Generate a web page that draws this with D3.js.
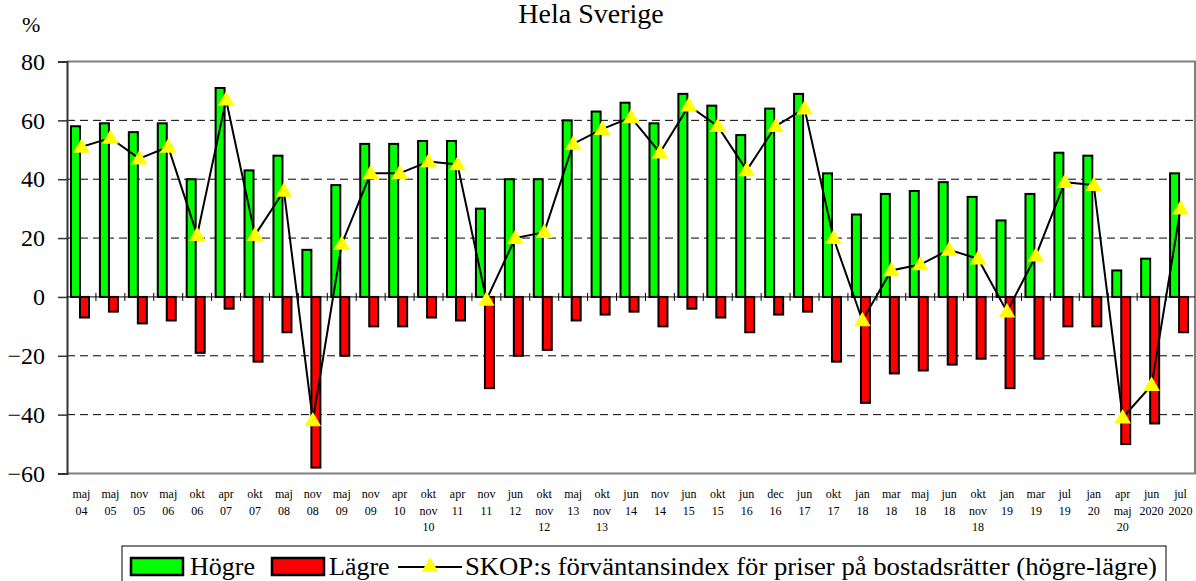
<!DOCTYPE html>
<meta charset="utf-8">
<style>
body { margin: 0; background: #fff; }
svg text { font-family: 'Liberation Serif', 'Times New Roman', Times, serif; fill: #000; }
</style>
<script src="https://d3js.org/d3.v7.min.js"></script>
<body>
<div id="chart"></div>
<script>
// categories (survey rounds), lines separated by "\n"
var categories = ["maj\n04","maj\n05","nov\n05","maj\n06","okt\n06","apr\n07","okt\n07","maj\n08","nov\n08","maj\n09",
  "nov\n09","apr\n10","okt\nnov\n10","apr\n11","nov\n11","jun\n12","okt\nnov\n12","maj\n13","okt\nnov\n13","jun\n14",
  "nov\n14","jun\n15","okt\n15","jun\n16","dec\n16","jun\n17","okt\n17","jan\n18","mar\n18","maj\n18",
  "jun\n18","okt\nnov\n18","jan\n19","mar\n19","jul\n19","jan\n20","apr\nmaj\n20","jun\n2020","jul\n2020"];

var hogre = [58,59,56,59,40,71,43,48,16,38,52,52,53,53,30,40,40,60,63,66,59,69,65,55,64,69,42,28,35,36,39,34,26,35,49,48,9,13,42];
var lagre = [-7,-5,-9,-8,-19,-4,-22,-12,-58,-20,-10,-10,-7,-8,-31,-20,-18,-8,-6,-5,-10,-4,-7,-12,-6,-5,-22,-36,-26,-25,-23,-21,-31,-21,-10,-10,-50,-43,-12];
var index = [51,54,47,51,21,67,21,36,-42,18,42,42,46,45,-1,20,22,52,57,61,49,65,58,43,58,64,20,-8,9,11,16,13,-5,14,39,38,-41,-30,30];

var yTicks = [80,60,40,20,0,-20,-40,-60];
var gridLines = [60,40,20,-20,-40];

var FONT = "'Liberation Serif', 'Times New Roman', Times, serif";
var W = 1196, H = 581;
var plot = {left: 67, right: 1195, top: 61.5, bottom: 473.5};

var svg = d3.select("#chart").append("svg")
    .attr("width", W)
    .attr("height", H)
    .attr("font-family", FONT);

var x = d3.scaleBand()
    .domain(categories)
    .range([plot.left, plot.right]);

var sub = d3.scaleBand()
    .domain(["h", "l"])
    .range([4, 22]);

var y = d3.scaleLinear()
    .domain([-60, 80])
    .range([plot.bottom, plot.top]);

// title
svg.append("text")
    .attr("x", 591)
    .attr("y", 23)
    .attr("text-anchor", "middle")
    .attr("font-family", FONT)
    .style("font-size", "28px")
    .text("Hela Sverige");

svg.append("text")
    .attr("x", 22)
    .attr("y", 32)
    .attr("font-family", FONT)
    .style("font-size", "22px")
    .text("%");

// dashed grid
svg.append("g")
    .selectAll("line")
    .data(gridLines)
    .enter()
    .append("line")
    .attr("x1", plot.left)
    .attr("x2", plot.right)
    .attr("y1", function(d) { return y(d); })
    .attr("y2", function(d) { return y(d); })
    .attr("stroke", "#000")
    .attr("stroke-width", 1)
    .attr("stroke-dasharray", "8,5");

// frame (top, right, bottom)
svg.append("path")
    .attr("d", "M" + plot.left + "," + y(80) + "H" + plot.right + "V" + y(-60) + "H" + plot.left)
    .attr("fill", "none")
    .attr("stroke", "#808080")
    .attr("stroke-width", 2);

// y axis
var yAxis = svg.append("g")
    .attr("transform", "translate(" + plot.left + ",0)")
    .call(d3.axisLeft(y).tickValues(yTicks).tickSize(9).tickPadding(13).tickFormat(d3.format("d")));
yAxis.attr("font-family", FONT).attr("font-size", 24);
yAxis.select(".domain").attr("stroke", "#333").attr("stroke-width", 2);
yAxis.selectAll(".tick line").attr("stroke", "#333").attr("stroke-width", 1.5);
yAxis.selectAll("text")
    .attr("font-family", FONT)
    .style("font-size", "24px")
    .attr("fill", "#000");

// bars
var groups = svg.append("g")
    .selectAll("g")
    .data(categories)
    .enter()
    .append("g")
    .attr("transform", function(d) { return "translate(" + x(d) + ",0)"; });

groups.append("rect")
    .attr("x", sub("h"))
    .attr("width", sub.bandwidth())
    .attr("y", function(d, i) { return y(hogre[i]); })
    .attr("height", function(d, i) { return y(0) - y(hogre[i]); })
    .attr("fill", "#00ff00")
    .attr("stroke", "#000")
    .attr("stroke-width", 2);

groups.append("rect")
    .attr("x", sub("l"))
    .attr("width", sub.bandwidth())
    .attr("y", y(0))
    .attr("height", function(d, i) { return y(lagre[i]) - y(0); })
    .attr("fill", "#ff0000")
    .attr("stroke", "#000")
    .attr("stroke-width", 2);

// zero line with category ticks
svg.append("line")
    .attr("x1", plot.left)
    .attr("x2", plot.right)
    .attr("y1", y(0))
    .attr("y2", y(0))
    .attr("stroke", "#000")
    .attr("stroke-width", 1);

svg.append("g")
    .selectAll("line")
    .data(categories.slice(1))
    .enter()
    .append("line")
    .attr("x1", function(d) { return x(d); })
    .attr("x2", function(d) { return x(d); })
    .attr("y1", y(0) - 4)
    .attr("y2", y(0) + 4)
    .attr("stroke", "#000")
    .attr("stroke-width", 1);

// index line + triangles
var line = d3.line()
    .x(function(d, i) { return x(categories[i]) + x.bandwidth() / 2; })
    .y(function(d) { return y(d); });

svg.append("path")
    .datum(index)
    .attr("d", line)
    .attr("fill", "none")
    .attr("stroke", "#000")
    .attr("stroke-width", 2);

svg.append("g")
    .selectAll("path")
    .data(index)
    .enter()
    .append("path")
    .attr("d", d3.symbol().type(d3.symbolTriangle).size(120))
    .attr("transform", function(d, i) {
        return "translate(" + (x(categories[i]) + x.bandwidth() / 2) + "," + (y(d) + 1) + ")";
    })
    .attr("fill", "#ffff00");

// x labels
var labels = svg.append("g")
    .selectAll("text")
    .data(categories)
    .enter()
    .append("text")
    .attr("text-anchor", "middle")
    .attr("font-family", FONT)
    .style("font-size", "12px")
    .attr("transform", function(d) { return "translate(" + (x(d) + x.bandwidth() / 2) + ",498)"; });

labels.selectAll("tspan")
    .data(function(d) { return d.split("\n"); })
    .enter()
    .append("tspan")
    .attr("x", 0)
    .attr("dy", function(d, i) { return i === 0 ? 0 : 16.5; })
    .text(function(d) { return d; });

// legend
var legend = svg.append("g").attr("font-family", FONT);
legend.append("rect")
    .attr("x", 122)
    .attr("y", 546)
    .attr("width", 1044)
    .attr("height", 50)
    .attr("fill", "#fff")
    .attr("stroke", "#000")
    .attr("stroke-width", 1);

legend.append("rect")
    .attr("x", 131).attr("y", 558).attr("width", 52).attr("height", 17)
    .attr("fill", "#00ff00").attr("stroke", "#000").attr("stroke-width", 2.5);
legend.append("text")
    .attr("x", 190).attr("y", 575)
    .attr("font-family", FONT)
    .style("font-size", "26px")
    .text("Högre");

legend.append("rect")
    .attr("x", 272).attr("y", 558).attr("width", 52).attr("height", 17)
    .attr("fill", "#ff0000").attr("stroke", "#000").attr("stroke-width", 2.5);
legend.append("text")
    .attr("x", 329).attr("y", 575)
    .attr("font-family", FONT)
    .style("font-size", "26px")
    .text("Lägre");

legend.append("line")
    .attr("x1", 398).attr("x2", 462).attr("y1", 567).attr("y2", 567)
    .attr("stroke", "#000").attr("stroke-width", 2);
legend.append("path")
    .attr("d", d3.symbol().type(d3.symbolTriangle).size(120))
    .attr("transform", "translate(430,567)")
    .attr("fill", "#ffff00");
legend.append("text")
    .attr("x", 465).attr("y", 575)
    .attr("font-family", FONT)
    .attr("textLength", 692)
    .attr("lengthAdjust", "spacingAndGlyphs")
    .style("font-size", "26px")
    .text("SKOP:s förväntansindex för priser på bostadsrätter (högre-lägre)");
</script>
</body>
